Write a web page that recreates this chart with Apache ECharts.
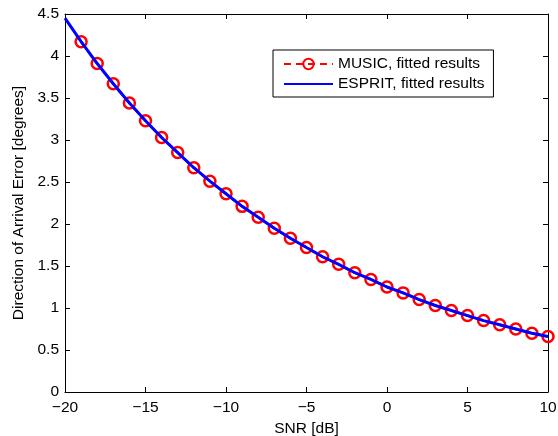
<!DOCTYPE html>
<html>
<head>
<meta charset="utf-8">
<script src="https://cdn.jsdelivr.net/npm/echarts@6/dist/echarts.min.js"></script>
<style>html,body{margin:0;padding:0;background:#fff}#c{width:558px;height:436px}</style>
</head>
<body>
<div id="c"></div>
<script>
const snr = [-20,-19,-18,-17,-16,-15,-14,-13,-12,-11,-10,-9,-8,-7,-6,-5,-4,-3,-2,-1,0,1,2,3,4,5,6,7,8,9,10];
const musicSnr = [-19,-18,-17,-16,-15,-14,-13,-12,-11,-10,-9,-8,-7,-6,-5,-4,-3,-2,-1,0,1,2,3,4,5,6,7,8,9,10];
const musicErr = [4.17,3.91,3.67,3.44,3.23,3.03,2.85,2.67,2.51,2.36,2.21,2.08,1.95,1.83,1.72,1.61,1.52,1.42,1.34,1.25,1.18,1.10,1.03,0.97,0.91,0.85,0.80,0.75,0.70,0.66];
const espritErr = [4.45,4.17,3.91,3.67,3.44,3.23,3.03,2.85,2.67,2.51,2.36,2.21,2.08,1.95,1.83,1.72,1.61,1.52,1.42,1.34,1.25,1.18,1.10,1.03,0.97,0.91,0.85,0.80,0.75,0.70,0.66];
const xLabel = 'SNR [dB]';
const yLabel = 'Direction of Arrival Error [degrees]';
const seriesNames = ['MUSIC, fitted results', 'ESPRIT, fitted results'];

const font = 'Liberation Sans, Arial, Helvetica, sans-serif';
const fs = 15.5;
const fmt = v => String(v).replace('-', '\u2212');
const chart = echarts.init(document.getElementById('c'), null, {renderer: 'canvas'});
const axisCommon = {
  axisLine: {show: true, onZero: false, lineStyle: {color: '#000', width: 1}},
  axisTick: {show: true, inside: true, length: 5, lineStyle: {color: '#000'}},
  splitLine: {show: false}
};
chart.setOption({
  animation: false,
  backgroundColor: '#fff',
  grid: {left: 65, right: 10, top: 14, bottom: 44, containLabel: false, outerBoundsMode: 'none'},
  legend: {
    orient: 'vertical', left: 273, top: 50,
    backgroundColor: '#fff', borderColor: '#000', borderWidth: 1,
    padding: [5, 9, 4, 10], itemGap: 2, itemWidth: 49, itemHeight: 13,
    textStyle: {fontFamily: font, fontSize: fs, color: '#000', lineHeight: 18},
    data: [
      {name: seriesNames[0]},
      {name: seriesNames[1], itemStyle: {opacity: 0}}
    ]
  },
  xAxis: [
    Object.assign({type: 'value', min: -20, max: 10, interval: 5, position: 'bottom',
      name: xLabel, nameLocation: 'middle', nameGap: 27,
      nameTextStyle: {fontFamily: font, fontSize: fs, color: '#000'},
      axisLabel: {formatter: fmt, fontFamily: font, fontSize: fs, color: '#000', margin: 8}}, axisCommon),
    Object.assign({type: 'value', min: -20, max: 10, interval: 5, position: 'top',
      axisLabel: {show: false}}, axisCommon)
  ],
  yAxis: [
    Object.assign({type: 'value', min: 0, max: 4.5, interval: 0.5, position: 'left',
      name: yLabel, nameLocation: 'middle', nameGap: 38, nameRotate: 90,
      nameTextStyle: {fontFamily: font, fontSize: fs, color: '#000'},
      axisLabel: {fontFamily: font, fontSize: fs, color: '#000', margin: 6}}, axisCommon),
    Object.assign({type: 'value', min: 0, max: 4.5, interval: 0.5, position: 'right',
      axisLabel: {show: false}}, axisCommon)
  ],
  series: [
    {
      name: seriesNames[0], type: 'line',
      data: musicSnr.map((x, i) => [x, musicErr[i]]),
      symbol: 'circle', symbolSize: 11,
      lineStyle: {color: '#ff0000', width: 2.5, type: [7, 5]},
      itemStyle: {color: 'rgba(255,255,255,0)', borderColor: '#ff0000', borderWidth: 2.5},
      z: 2
    },
    {
      name: seriesNames[1], type: 'line',
      data: snr.map((x, i) => [x, espritErr[i]]),
      symbol: 'none', smooth: false,
      lineStyle: {color: '#0000ff', width: 3},
      itemStyle: {color: '#0000ff'},
      z: 3
    }
  ]
});
</script>
</body>
</html>
